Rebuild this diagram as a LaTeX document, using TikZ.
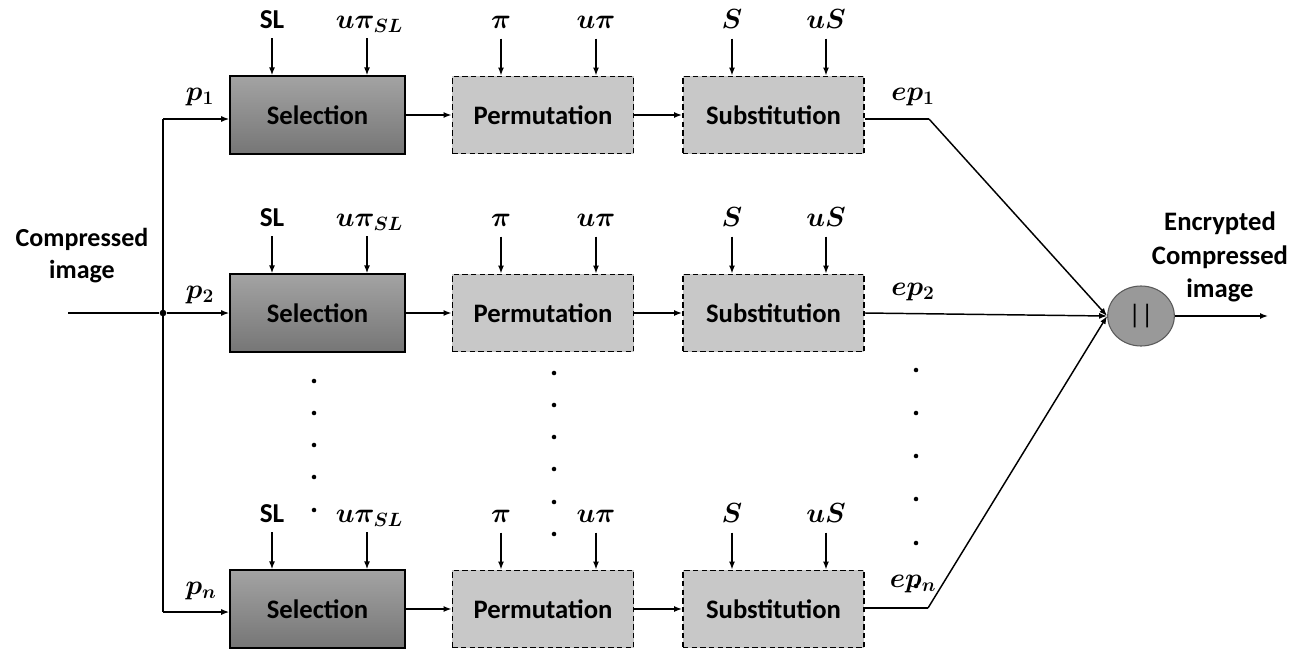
\documentclass[tikz,border=0pt]{standalone}
\usepackage{amsmath}
\usepackage{fontspec}
\setmainfont{Carlito}
\usetikzlibrary{arrows.meta,calc,shapes.geometric}
\definecolor{selTop}{HTML}{A3A3A3}
\definecolor{selBot}{HTML}{767676}
\definecolor{boxFill}{HTML}{C8C8C8}
\definecolor{circFill}{HTML}{999999}
\definecolor{circLine}{HTML}{5A5A5A}
\tikzset{
  lbl/.style={font=\fontsize{19.5}{24}\selectfont\bfseries, inner sep=0pt},
  mlbl/.style={font=\fontsize{20.74}{24}\selectfont, inner sep=0pt},
  selbox/.style={draw=black, line width=1.4pt, top color=selTop, bottom color=selBot,
    minimum width=131pt, minimum height=58pt, inner sep=0pt,
    font=\fontsize{20}{24}\selectfont\bfseries},
  dashbox/.style={draw=black, line width=1.2pt, dash pattern=on 4pt off 2.5pt, fill=boxFill,
    minimum width=136pt, minimum height=58pt, inner sep=0pt,
    font=\fontsize{20}{24}\selectfont\bfseries},
  arr/.style={line width=1.1pt, -{Latex[length=6pt,width=4.5pt]}},
  ln/.style={line width=1.1pt},
  dotm/.style={circle, fill=black, inner sep=0pt, minimum size=3.4pt},
}
\begin{document}
\begin{tikzpicture}[x=0.75pt,y=-0.75pt]
\useasboundingbox (0,0) rectangle (1298,650);

% boxes
\foreach \r/\y in {1/115,2/313,n/609}{
  \node[selbox] (sel\r) at (317.5,\y) {Selection};
  \node[dashbox] (per\r) at (543,\y) {Permutation};
  \node[dashbox] (sub\r) at (773.5,\y) {Substitution};
}

% key labels and arrows
\foreach \r in {1,2,n}{
  \node[lbl, anchor=base, font=\fontsize{20.5}{24}\selectfont\bfseries] (sl\r) at ($(sel\r.north)+(-45.5,-47)$) {SL};
  \node[mlbl, anchor=base] (usl\r) at ($(sel\r.north)+(52,-47)$) {$\boldsymbol{u\pi_{SL}}$};
  \node[mlbl, anchor=base] (pi\r) at ($(per\r.north)+(-42,-47)$) {$\boldsymbol{\pi}$};
  \node[mlbl, anchor=base] (upi\r) at ($(per\r.north)+(53,-47)$) {$\boldsymbol{u\pi}$};
  \node[mlbl, anchor=base] (s\r) at ($(sub\r.north)+(-41.5,-47)$) {$\boldsymbol{S}$};
  \node[mlbl, anchor=base] (us\r) at ($(sub\r.north)+(52.5,-47)$) {$\boldsymbol{uS}$};
  \draw[arr] ($(sel\r.north)+(-45.5,-37)$) -- ($(sel\r.north)+(-45.5,0)$);
  \draw[arr] ($(sel\r.north)+(49.5,-37)$) -- ($(sel\r.north)+(49.5,0)$);
  \draw[arr] ($(per\r.north)+(-42,-37)$) -- ($(per\r.north)+(-42,0)$);
  \draw[arr] ($(per\r.north)+(53,-37)$) -- ($(per\r.north)+(53,0)$);
  \draw[arr] ($(sub\r.north)+(-41.5,-37)$) -- ($(sub\r.north)+(-41.5,0)$);
  \draw[arr] ($(sub\r.north)+(52.5,-37)$) -- ($(sub\r.north)+(52.5,0)$);
  \draw[arr] (sel\r.east) -- (per\r.west);
  \draw[arr] (per\r.east) -- (sub\r.west);
}

% input side
\node[lbl, align=center] (cin) at (82,256) {Compressed\\image};
\coordinate (start) at (68,313);
\node[dotm, minimum size=5pt] (junc) at (163,313) {};
\coordinate (j1) at (163,119);
\coordinate (jn) at (163,612);
\draw[ln] (start) -- (junc);
\draw[ln] (j1) -- (jn);
\draw[arr] (j1) -- (sel1.west |- j1);
\draw[arr] (junc) -- (sel2.west);
\draw[arr] (jn) -- (seln.west |- jn);
\node[mlbl] (p1) at (200,97) {$\boldsymbol{p_1}$};
\node[mlbl] (p2) at (200,295) {$\boldsymbol{p_2}$};
\node[mlbl] (pn) at (201,591) {$\boldsymbol{p_n}$};

% concatenation
\node[ellipse, draw=circLine, line width=0.8pt, fill=circFill, minimum width=50pt, minimum height=45pt, inner sep=0pt,
  font=\fontsize{20}{24}\selectfont] (cat) at (1141,316) {||};
\coordinate (b1) at (929,119);
\coordinate (bn) at (928,608);
\draw[ln] (sub1.east |- b1) -- (b1);
\draw[arr] (b1) -- (cat.west);
\draw[arr] (sub2.east) -- (cat.west);
\draw[ln] (subn.east |- bn) -- (bn);
\draw[arr] (bn) -- (cat.west);
\coordinate (out) at (1268,316);
\draw[arr] (cat.east) -- (out);
\node[mlbl] (ep1) at (913,97) {$\boldsymbol{ep_1}$};
\node[mlbl] (ep2) at (913,292) {$\boldsymbol{ep_2}$};
\node[mlbl] (epn) at (913,584) {$\boldsymbol{ep_n}$};
\node[lbl, align=center, font=\fontsize{20}{25}\selectfont\bfseries] (cout) at (1220,257) {Encrypted\\Compressed\\image};

% dots
\foreach \yy in {381,413,445,477,510} \node[dotm] at (314,\yy) {};
\foreach \yy in {373,405,437,469,502,534} \node[dotm] at (554,\yy) {};
\foreach \yy in {370,413,456,499,543,586} \node[dotm] at (916,\yy) {};
\end{tikzpicture}
\end{document}
